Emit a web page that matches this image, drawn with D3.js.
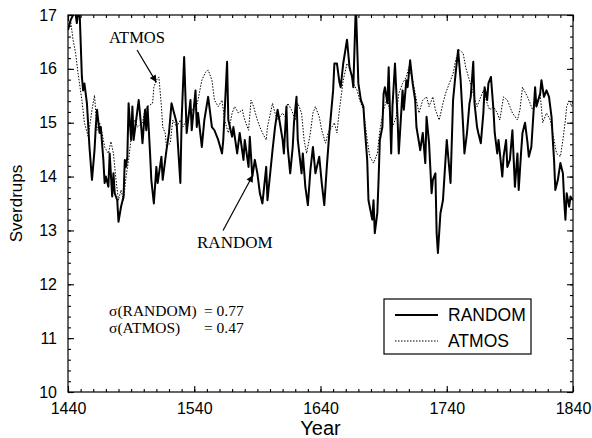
<!DOCTYPE html>
<html>
<head>
<meta charset="utf-8">
<script src="https://cdn.jsdelivr.net/npm/d3@7"></script>
<style>
  body { margin: 0; background: #fff; }
  .axis text { font-family: "Liberation Sans", Arial, sans-serif; font-size: 16px; fill: #000; }
  .axis path, .axis line { stroke: #000; stroke-width: 1.1; }
</style>
</head>
<body>
<div id="chart"></div>
<script>
// Values (years, Sverdrups)
var randomYears = [1440,1442,1444,1445,1447,1449,1451,1452,1453,1455,1457,1459,1461,1462,1463,1465,1466,1468,1469,1470,
  1472,1473,1475,1476,1477,1479,1480,1482,1484,1485,1486,1487,1488,1490,1491,1492,1495,1496,1498,1499,
  1501,1502,1503,1505,1506,1508,1510,1511,1514,1515,1517,1518,1520,1522,1524,1526,1527,1529,1530,1532,
  1534,1537,1538,1541,1542,1543,1546,1548,1551,1554,1556,1559,1562,1563,1566,1567,1570,1571,1574,1576,
  1579,1580,1583,1584,1586,1588,1590,1592,1594,1597,1598,1602,1604,1606,1607,1610,1611,1613,1614,1616,
  1618,1619,1621,1622,1625,1626,1628,1630,1632,1634,1636,1639,1641,1643,1645,1647,1650,1651,1653,1655,
  1656,1658,1661,1663,1665,1666,1668,1670,1672,1674,1675,1677,1678,1679,1681,1682,1683,1685,1686,1687,
  1689,1690,1691,1693,1694,1696,1697,1699,1701,1702,1705,1706,1708,1709,1711,1713,1715,1716,1719,1721,
  1723,1724,1726,1728,1729,1731,1732,1733,1735,1737,1739,1740,1743,1745,1747,1749,1751,1753,1754,1756,
  1758,1759,1761,1762,1764,1765,1767,1769,1770,1772,1773,1775,1777,1778,1780,1781,1784,1785,1787,1788,
  1790,1792,1794,1796,1797,1799,1800,1802,1804,1805,1807,1808,1810,1811,1814,1815,1817,1819,1821,1823,
  1824,1825,1826,1828,1830,1832,1833,1834,1835,1837,1838,1840];
var randomValues = [16.72,16.9,17.0,17.2,16.85,17.2,15.85,15.6,15.73,15.36,14.55,13.94,14.49,14.92,15.24,14.81,14.92,14.31,13.88,14.0,
  13.81,14.43,13.63,14.06,13.69,13.56,13.16,13.44,13.63,14.31,14.18,14.37,15.36,14.68,15.3,14.68,15.24,15.42,14.92,14.62,
  15.24,14.86,15.3,14.43,13.94,13.5,14.18,13.88,14.37,13.94,14.31,14.49,14.81,15.36,15.18,15.0,14.62,13.88,15.05,16.22,
  14.81,15.42,14.86,15.6,14.92,15.18,14.55,15.05,15.48,14.92,14.86,14.68,14.43,14.68,16.13,15.05,14.74,14.92,14.43,14.81,
  14.31,14.68,14.18,14.74,14.0,14.31,14.06,13.69,13.5,14.18,13.56,14.49,14.92,15.24,15.11,14.68,14.43,15.3,14.55,14.06,
  14.55,15.0,15.48,14.68,14.06,14.43,13.81,13.47,14.12,14.55,14.06,14.37,13.88,13.47,14.18,14.81,15.6,16.1,16.1,15.75,
  15.66,16.1,16.54,16.03,15.85,15.66,17.2,15.73,15.42,15.3,14.92,14.31,13.56,13.44,13.2,13.56,12.95,13.32,13.94,14.68,
  14.92,15.54,15.66,15.36,16.03,14.43,15.3,16.1,15.11,14.43,15.6,15.24,15.79,15.66,16.16,15.73,15.42,14.92,14.49,14.81,
  14.25,15.11,14.62,13.69,13.94,14.06,12.95,12.58,13.32,13.56,14.31,14.68,13.88,15.42,15.91,16.35,15.79,14.92,14.43,14.8,
  15.36,15.48,16.13,15.36,14.92,14.81,14.62,15.18,15.66,15.42,15.73,15.85,15.24,14.81,14.43,14.68,14.0,14.37,14.68,14.18,
  14.31,14.86,13.81,14.43,13.75,14.49,14.81,15.0,14.62,14.37,14.55,14.92,15.66,15.3,15.54,15.79,15.48,15.6,15.48,15.11,
  14.68,14.31,13.75,13.94,14.25,14.06,13.56,13.2,13.69,13.44,13.63,13.56];

var atmosYears = [1440,1442,1444,1446,1448,1451,1453,1456,1459,1461,1463,1465,1467,1469,1472,1474,1476,1478,1480,1482,
  1484,1486,1488,1491,1493,1495,1499,1501,1503,1507,1508,1510,1512,1514,1515,1517,1518,1521,1523,1526,
  1529,1531,1534,1537,1541,1543,1546,1549,1551,1554,1556,1559,1562,1564,1567,1570,1572,1575,1578,1580,
  1583,1585,1587,1590,1592,1594,1597,1598,1602,1604,1606,1610,1612,1614,1617,1620,1622,1625,1627,1629,
  1632,1634,1636,1639,1641,1644,1646,1649,1651,1653,1655,1658,1661,1663,1666,1669,1671,1674,1677,1679,
  1682,1685,1687,1690,1693,1695,1697,1700,1702,1705,1708,1710,1713,1716,1718,1721,1724,1726,1729,1731,
  1734,1737,1739,1742,1745,1747,1750,1753,1755,1758,1761,1764,1766,1769,1772,1774,1777,1780,1782,1785,
  1788,1790,1792,1796,1798,1800,1804,1806,1808,1811,1814,1816,1819,1822,1824,1826,1827,1830,1832,1834,
  1835,1837,1839,1840];
var atmosValues = [16.78,16.9,16.54,16.29,15.91,15.42,15.0,14.74,15.24,15.51,14.86,15.0,14.81,14.55,14.43,14.65,14.43,13.94,13.56,13.75,
  13.56,14.0,14.31,14.92,15.05,14.92,15.0,15.24,15.3,15.36,15.66,15.79,15.85,15.3,14.92,14.81,14.55,14.62,15.05,14.92,
  15.05,14.92,15.05,15.24,15.24,15.42,15.79,15.94,15.98,15.79,15.42,15.3,15.42,15.05,14.81,15.18,15.3,15.18,15.24,15.05,
  14.86,15.42,15.3,15.05,14.92,14.81,14.68,14.92,15.36,15.18,15.05,15.18,15.11,15.36,15.24,15.05,15.36,15.18,14.68,14.43,
  14.81,15.18,15.3,15.11,14.86,14.62,14.81,14.92,15.0,14.81,15.24,15.79,16.1,16.03,15.73,15.6,15.42,15.24,14.68,14.37,
  14.25,14.43,14.86,15.24,15.48,15.18,14.92,15.11,15.54,15.73,15.85,16.03,15.79,15.42,15.18,15.42,15.48,15.3,15.48,15.24,
  15.05,15.36,15.54,15.73,15.91,16.16,16.35,16.29,16.03,15.79,15.54,15.3,15.42,15.6,15.36,15.24,15.3,15.18,15.05,15.48,
  15.42,15.3,15.18,15.05,15.24,15.66,15.48,15.36,15.24,15.36,15.54,15.0,15.18,15.05,14.81,14.55,14.43,14.37,14.68,15.05,
  15.3,15.42,15.3,15.4];

var xTicks = [1440, 1540, 1640, 1740, 1840];
var yTicks = [10, 11, 12, 13, 14, 15, 16, 17];
var seriesNames = ["RANDOM", "ATMOS"];

// Set up chart area
var svgWidth = 592;
var svgHeight = 438;
var margin = { top: 15, right: 19, bottom: 46, left: 68 };
var width = svgWidth - margin.left - margin.right;
var height = svgHeight - margin.top - margin.bottom;

var svg = d3.select("#chart")
  .append("svg")
  .attr("width", svgWidth)
  .attr("height", svgHeight);

var chartGroup = svg.append("g")
  .attr("transform", `translate(${margin.left}, ${margin.top})`);

var xScale = d3.scaleLinear().domain([1440, 1840]).range([0, width]);
var yScale = d3.scaleLinear().domain([10, 17]).range([height, 0]);

chartGroup.append("clipPath").attr("id", "clip")
  .append("rect").attr("width", width).attr("height", height);

// minor ticks
var xMinor = d3.range(1440, 1841, 10);
var yMinor = d3.range(10, 17.01, 0.2);

function addAxis(axisFn, scale, values, size, fmt, transform) {
  var ax = axisFn(scale).tickValues(values).tickSizeInner(-size).tickSizeOuter(0).tickPadding(11);
  ax.tickFormat(fmt ? d3.format("d") : "");
  var g = chartGroup.append("g").attr("class", "axis");
  if (transform) g.attr("transform", transform);
  g.call(ax);
  g.select(".domain").remove();
  return g;
}

addAxis(d3.axisBottom, xScale, xMinor, 3, false, `translate(0, ${height})`);
addAxis(d3.axisBottom, xScale, xTicks, 6, true, `translate(0, ${height})`);
addAxis(d3.axisTop, xScale, xMinor, 3, false);
addAxis(d3.axisTop, xScale, xTicks, 6, false);
addAxis(d3.axisLeft, yScale, yMinor, 3, false);
addAxis(d3.axisLeft, yScale, yTicks, 6, true);
addAxis(d3.axisRight, yScale, yMinor, 3, false, `translate(${width}, 0)`);
addAxis(d3.axisRight, yScale, yTicks, 6, false, `translate(${width}, 0)`);

// frame
chartGroup.append("rect")
  .attr("width", width).attr("height", height)
  .attr("fill", "none").attr("stroke", "#000").attr("stroke-width", 1.2);

var randomData = randomYears.map((d, i) => ({ year: d, value: randomValues[i] }));
var atmosData = atmosYears.map((d, i) => ({ year: d, value: atmosValues[i] }));

var line = d3.line().x(d => xScale(d.year)).y(d => yScale(d.value));

var lines = chartGroup.append("g").attr("clip-path", "url(#clip)");
lines.append("path").datum(atmosData)
  .attr("d", line).attr("fill", "none")
  .attr("stroke", "#000").attr("stroke-width", 1)
  .attr("stroke-dasharray", "1.5,1.5");
lines.append("path").datum(randomData)
  .attr("d", line).attr("fill", "none")
  .attr("stroke", "#000").attr("stroke-width", 2)
  .attr("stroke-linejoin", "round");

// axis titles
chartGroup.append("text")
  .attr("x", width / 2).attr("y", height + 43)
  .attr("text-anchor", "middle")
  .style("font-family", "Liberation Sans, Arial, sans-serif")
  .style("font-size", "20px")
  .text("Year");

chartGroup.append("text")
  .attr("transform", `translate(${-46}, ${height / 2}) rotate(-90)`)
  .attr("text-anchor", "middle")
  .style("font-family", "Liberation Sans, Arial, sans-serif")
  .style("font-size", "17px")
  .text("Sverdrups");

// arrow marker
svg.append("defs").append("marker")
  .attr("id", "arrow").attr("viewBox", "0 0 10 10")
  .attr("refX", 10).attr("refY", 5)
  .attr("markerWidth", 9).attr("markerHeight", 7)
  .attr("markerUnits", "userSpaceOnUse")
  .attr("orient", "auto")
  .append("path").attr("d", "M0,0 L10,5 L0,10 z").attr("fill", "#000");

var serif = "Liberation Serif, Times New Roman, serif";

// ATMOS annotation
chartGroup.append("text")
  .attr("x", xScale(1472.5)).attr("y", yScale(16.48))
  .style("font-family", serif).style("font-size", "16.5px")
  .text("ATMOS");
chartGroup.append("line")
  .attr("x1", xScale(1494.7)).attr("y1", yScale(16.35))
  .attr("x2", xScale(1510)).attr("y2", yScale(15.75))
  .attr("stroke", "#000").attr("stroke-width", 1.2)
  .attr("marker-end", "url(#arrow)");

// RANDOM annotation
chartGroup.append("text")
  .attr("x", xScale(1542.2)).attr("y", yScale(12.67))
  .style("font-family", serif).style("font-size", "17px")
  .text("RANDOM");
chartGroup.append("line")
  .attr("x1", xScale(1562.8)).attr("y1", yScale(13.0))
  .attr("x2", xScale(1586.5)).attr("y2", yScale(14.03))
  .attr("stroke", "#000").attr("stroke-width", 1.2)
  .attr("marker-end", "url(#arrow)");

// sigma text
var sig = chartGroup.append("g").style("font-family", serif).style("font-size", "15.5px");
sig.append("text").attr("x", xScale(1472.5)).attr("y", yScale(11.41)).text("σ(RANDOM)");
sig.append("text").attr("x", xScale(1547.7)).attr("y", yScale(11.41)).text("= 0.77");
sig.append("text").attr("x", xScale(1472.5)).attr("y", yScale(11.1)).text("σ(ATMOS)");
sig.append("text").attr("x", xScale(1547.7)).attr("y", yScale(11.1)).text("= 0.47");

// legend
var legend = chartGroup.append("g")
  .attr("transform", `translate(${384 - margin.left}, ${299 - margin.top})`);
legend.append("rect")
  .attr("width", 147).attr("height", 55)
  .attr("fill", "#fff").attr("stroke", "#000").attr("stroke-width", 1.2);
seriesNames.forEach(function(name, i) {
  var y = 16 + i * 26;
  legend.append("line")
    .attr("x1", 11).attr("x2", 54).attr("y1", y).attr("y2", y)
    .attr("stroke", "#000")
    .attr("stroke-width", i === 0 ? 2 : 1)
    .attr("stroke-dasharray", i === 0 ? null : "1.5,1.5");
  legend.append("text")
    .attr("x", 64).attr("y", y + 6)
    .style("font-family", "Liberation Sans, Arial, sans-serif")
    .style("font-size", "17.5px")
    .text(name);
});
</script>
</body>
</html>
